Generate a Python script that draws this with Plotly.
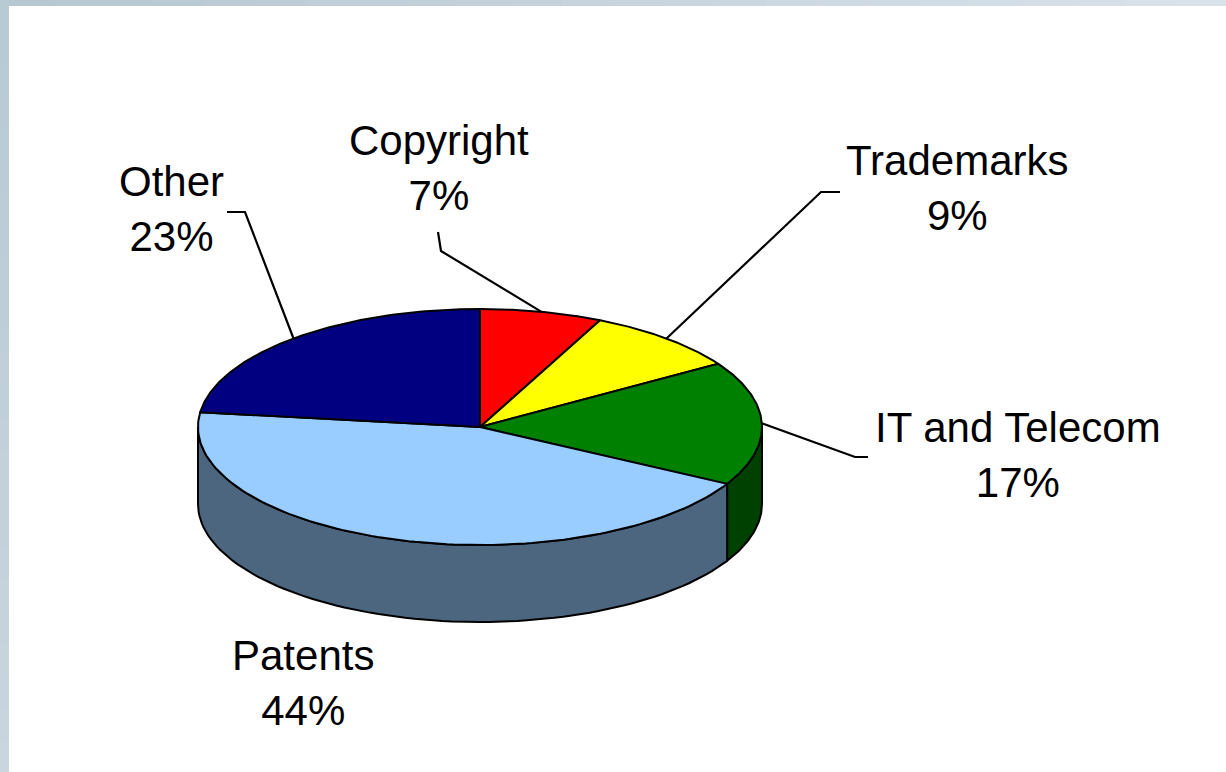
import numpy as np
import plotly.graph_objects as go

# ---- data ----
categories = ["Copyright", "Trademarks", "IT and Telecom", "Patents", "Other"]
shares = [7, 9, 17, 44, 23]
top_colors = ["#FF0000", "#FFFF00", "#008000", "#99CCFF", "#000080"]
side_colors = ["#800000", "#808000", "#004000", "#4D6680", "#000040"]

# ---- geometry (pixel space) ----
W, H = 1226, 772
cx, cy, rx, ry, depth = 480, 427, 282, 118, 77

def pt(theta_deg, dy=0.0):
    t = np.radians(theta_deg)
    return cx + rx * np.sin(t), cy - ry * np.cos(t) + dy

fig = go.Figure()

total = float(sum(shares))
bounds = [0.0]
for v in shares:
    bounds.append(bounds[-1] + 360.0 * v / total)

# side faces (visible for angles between 90 and 270)
for i in range(len(shares)):
    a0, a1 = max(bounds[i], 90.0), min(bounds[i + 1], 270.0)
    if a1 <= a0:
        continue
    th = np.linspace(a0, a1, 80)
    xt, yt = pt(th)
    xb, yb = pt(th[::-1], depth)
    xs = np.concatenate([xt, xb, xt[:1]])
    ys = np.concatenate([yt, yb, yt[:1]])
    fig.add_trace(go.Scatter(x=xs, y=ys, mode="lines", fill="toself",
                             fillcolor=side_colors[i],
                             line=dict(color="black", width=2),
                             hoverinfo="skip", showlegend=False))

# top face slices
for i in range(len(shares)):
    th = np.linspace(bounds[i], bounds[i + 1], 120)
    xa, ya = pt(th)
    xs = np.concatenate([[cx], xa, [cx]])
    ys = np.concatenate([[cy], ya, [cy]])
    fig.add_trace(go.Scatter(x=xs, y=ys, mode="lines", fill="toself",
                             fillcolor=top_colors[i],
                             line=dict(color="black", width=2),
                             hoverinfo="skip", showlegend=False))

# ---- labels and leader lines ----
label_pos = {
    "Copyright": (439, 168),
    "Trademarks": (957, 188),
    "IT and Telecom": (1018, 455),
    "Other": (171, 209),
    "Patents": (303, 683),
}
leader_knees = {
    "Copyright": [(438, 232), (441, 251)],
    "Trademarks": [(840, 192), (821, 192)],
    "IT and Telecom": [(868, 457), (855, 457)],
    "Other": [(227, 212), (245, 212)],
}
for i, name in enumerate(categories):
    x, y = label_pos[name]
    fig.add_annotation(x=x, y=y, xref="x", yref="y", text=f"{name}<br>{shares[i]}%",
                       showarrow=False, xanchor="center", yanchor="middle",
                       font=dict(family="Arial, Liberation Sans, sans-serif", size=42, color="black"))
    if name in leader_knees:
        mid = (bounds[i] + bounds[i + 1]) / 2
        px, py = pt(mid)
        pts = leader_knees[name] + [(px, py)]
        fig.add_trace(go.Scatter(x=[p[0] for p in pts], y=[p[1] for p in pts], mode="lines",
                                 line=dict(color="black", width=2.2),
                                 hoverinfo="skip", showlegend=False))

# ---- frame strips (gradient approximations) ----
shapes = []
n = 24
c0 = np.array([0xB6, 0xC7, 0xD2]); c1 = np.array([0xDA, 0xE2, 0xEA])
for k in range(n):
    c = (c0 + (c1 - c0) * k / (n - 1)).astype(int)
    shapes.append(dict(type="rect", xref="x", yref="y", x0=W * k / n, x1=W * (k + 1) / n + 1,
                       y0=0, y1=6, fillcolor="rgb(%d,%d,%d)" % tuple(c), line=dict(width=0), layer="below"))
c0 = np.array([0xB8, 0xCA, 0xD4]); c1 = np.array([0xC9, 0xD6, 0xDE])
for k in range(n):
    c = (c0 + (c1 - c0) * k / (n - 1)).astype(int)
    shapes.append(dict(type="rect", xref="x", yref="y", x0=0, x1=9,
                       y0=H * k / n, y1=H * (k + 1) / n + 1, fillcolor="rgb(%d,%d,%d)" % tuple(c),
                       line=dict(width=0), layer="below"))

fig.update_layout(
    width=W, height=H, margin=dict(l=0, r=0, t=0, b=0),
    paper_bgcolor="white", plot_bgcolor="white",
    xaxis=dict(range=[0, W], visible=False, fixedrange=True),
    yaxis=dict(range=[H, 0], visible=False, fixedrange=True),
    shapes=shapes, showlegend=False,
)
fig.write_html("out.html", config={"displayModeBar": False},
               post_script="document.body.style.margin='0';document.body.style.padding='0';document.body.style.overflow='hidden';")
